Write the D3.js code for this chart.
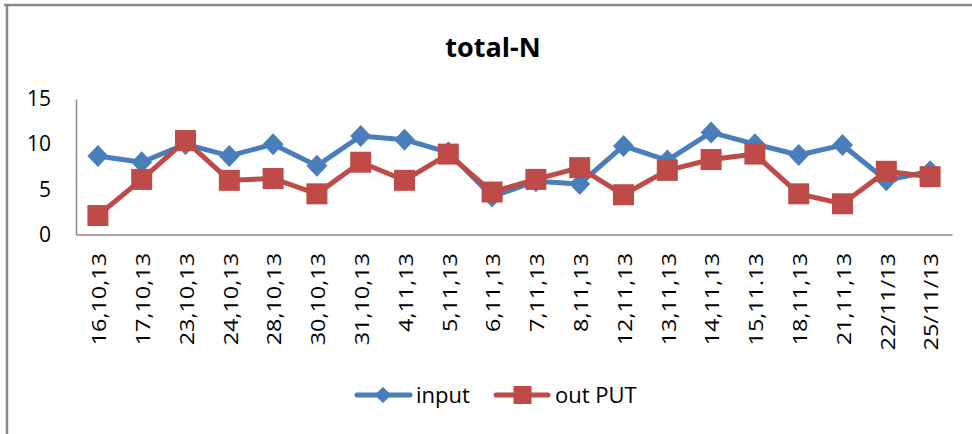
<!DOCTYPE html>
<html>
<head>
<meta charset="utf-8">
<script src="https://cdn.jsdelivr.net/npm/d3@7"></script>
<style>
  html, body { margin: 0; padding: 0; background: #fff; }
  svg text { font-family: "Open Sans", "Noto Sans", sans-serif; fill: #000; }
</style>
</head>
<body>
<svg id="chart" width="972" height="434"></svg>
<script>
const dates = ["16,10,13", "17,10,13", "23,10,13", "24,10,13", "28,10,13", "30,10,13",
  "31,10,13", "4,11,13", "5,11,13", "6,11,13", "7,11,13", "8,11,13", "12,11,13",
  "13,11,13", "14,11,13", "15,11.13", "18,11,13", "21,11,13", "22/11/13", "25/11/13"];
const input = [8.7, 8.0, 10.0, 8.7, 10.0, 7.6, 10.9, 10.5, 9.1, 4.2, 5.9, 5.6, 9.8, 8.2, 11.3, 10.0, 8.8, 9.9, 6.0, 7.0];
const output = [2.1, 6.1, 10.4, 6.0, 6.2, 4.5, 8.0, 6.0, 8.9, 4.7, 6.1, 7.4, 4.4, 7.1, 8.3, 8.9, 4.5, 3.4, 7.0, 6.4];
const yTicks = [0, 5, 10, 15];

const blue = "#4a7ebb";
const red = "#be4b48";
const axisGrey = "#8a8a8a";

const svg = d3.select("#chart");

// chart frame (only top and left edges show in the picture)
svg.append("line").attr("x1", 4).attr("x2", 972).attr("y1", 5).attr("y2", 5)
  .attr("stroke", "#888").attr("stroke-width", 2.5);
svg.append("line").attr("x1", 7).attr("x2", 7).attr("y1", 4).attr("y2", 434)
  .attr("stroke", "#888").attr("stroke-width", 2.5);

svg.append("text")
  .attr("x", 493).attr("y", 57)
  .attr("text-anchor", "middle")
  .attr("font-size", 27).attr("font-weight", "bold")
  .text("total-N");

const x = d3.scaleBand().domain(dates).range([76, 952]);
const y = d3.scaleLinear().domain([0, 15]).range([234.5, 99]);
const cx = d => x(d) + x.bandwidth() / 2;

// y axis
const yAxis = svg.append("g")
  .attr("transform", "translate(76,0)")
  .call(d3.axisLeft(y).tickValues(yTicks).tickSize(0).tickPadding(25));
yAxis.select(".domain").attr("stroke", axisGrey).attr("stroke-width", 1.5);
yAxis.selectAll("text").attr("font-size", 21).attr("font-family", "Open Sans").attr("fill", "#000");

// x axis
const xAxis = svg.append("g")
  .attr("transform", "translate(0,234.5)")
  .call(d3.axisBottom(x).tickSize(0).tickSizeOuter(0));
xAxis.select(".domain").attr("stroke", axisGrey).attr("stroke-width", 1.5);
xAxis.selectAll("text").remove();

svg.append("g").selectAll("text")
  .data(dates)
  .join("text")
  .attr("transform", d => `translate(${cx(d) + 1},253) scale(1,1.17) rotate(-90)`)
  .attr("text-anchor", "end")
  .attr("dy", "0.36em")
  .attr("font-size", 20)
  .text(d => d);

const line = d3.line().x((v, i) => cx(dates[i])).y(v => y(v));

// input series
svg.append("path").datum(input)
  .attr("d", line).attr("fill", "none")
  .attr("stroke", blue).attr("stroke-width", 5).attr("stroke-linejoin", "round");
svg.append("g").selectAll("path")
  .data(input)
  .join("path")
  .attr("transform", (v, i) => `translate(${cx(dates[i])},${y(v)})`)
  .attr("d", "M0,-11L10.5,0L0,11L-10.5,0Z")
  .attr("fill", blue);

// out PUT series
svg.append("path").datum(output)
  .attr("d", line).attr("fill", "none")
  .attr("stroke", red).attr("stroke-width", 5).attr("stroke-linejoin", "round");
svg.append("g").selectAll("rect")
  .data(output)
  .join("rect")
  .attr("x", (v, i) => cx(dates[i]) - 10.5)
  .attr("y", v => y(v) - 10.5)
  .attr("width", 21).attr("height", 21)
  .attr("fill", red);

// legend
const legend = svg.append("g");
legend.append("line").attr("x1", 357).attr("x2", 410).attr("y1", 395).attr("y2", 395)
  .attr("stroke", blue).attr("stroke-width", 5).attr("stroke-linecap", "round");
legend.append("path").attr("transform", "translate(383,395)")
  .attr("d", "M0,-8L8.5,0L0,8L-8.5,0Z").attr("fill", blue);
legend.append("text").attr("x", 416).attr("y", 403).attr("font-size", 22).text("input");
legend.append("line").attr("x1", 496).attr("x2", 548).attr("y1", 395).attr("y2", 395)
  .attr("stroke", red).attr("stroke-width", 5).attr("stroke-linecap", "round");
legend.append("rect").attr("x", 513.5).attr("y", 386).attr("width", 18).attr("height", 18).attr("fill", red);
legend.append("text").attr("x", 555).attr("y", 403).attr("font-size", 22).text("out PUT");
</script>
</body>
</html>
